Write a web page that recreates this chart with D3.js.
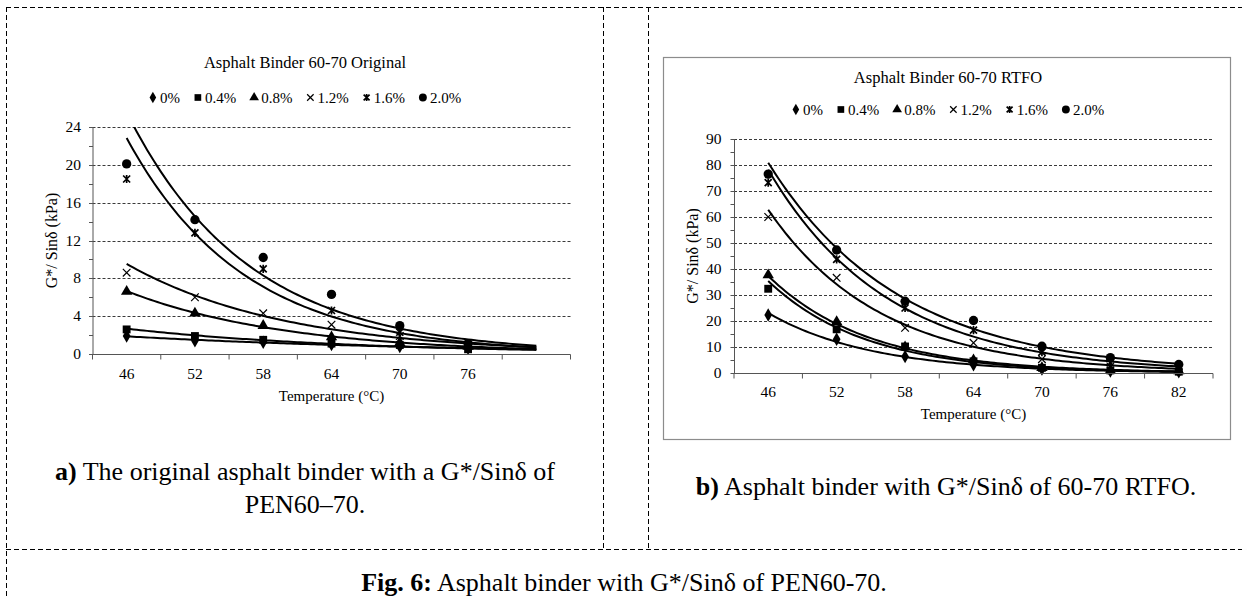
<!DOCTYPE html>
<html><head><meta charset="utf-8">
<script src="https://cdn.jsdelivr.net/npm/d3@7"></script>
<style>
body{margin:0;background:#fff}
svg{display:block}
text{font-family:"Liberation Serif","Times New Roman",serif;fill:#000}
</style>
</head><body>
<svg id="c" width="1242" height="596"></svg>
<script>
// ---------------- DATA ----------------
const catsA = ["46","52","58","64","70","76",""];
const catsB = ["46","52","58","64","70","76","82"];
const seriesNames = ["0%","0.4%","0.8%","1.2%","1.6%","2.0%"];
const markerTypes = ["diamond","square","triangle","cross","star","circle"];

// Original binder (panel a), G*/Sin delta in kPa
const origP00 = [1.9, 1.4, 1.25, 1.0, 0.8, 0.6];
const origP04 = [2.6, 1.9, 1.5, 1.1, 0.95, 0.5];
const origP08 = [6.6, 4.3, 3.0, 1.8, 1.2, 0.8];
const origP12 = [8.6, 6.0, 4.3, 3.1, 1.9, 0.9];
const origP16 = [18.5, 12.8, 9.0, 4.6, 2.3, 1.0];
const origP20 = [20.1, 14.2, 10.2, 6.3, 3.0, 1.1];

// RTFO binder (panel b)
const rtfoP00 = [22.3, 13.0, 6.3, 3.2, 1.5, 0.8, 0.5];
const rtfoP04 = [32.4, 16.8, 10.2, 4.5, 2.0, 1.0, 0.5];
const rtfoP08 = [37.7, 19.7, 10.0, 5.0, 2.0, 1.0, 0.8];
const rtfoP12 = [60.0, 36.6, 17.4, 11.6, 5.3, 2.5, 1.8];
const rtfoP16 = [73.2, 43.7, 25.0, 16.5, 8.0, 4.0, 2.5];
const rtfoP20 = [76.5, 47.3, 27.6, 20.2, 10.3, 5.9, 3.3];

const yTicksA = [0, 4, 8, 12, 16, 20, 24];
const yTicksB = [0, 10, 20, 30, 40, 50, 60, 70, 80, 90];

const titleA = "Asphalt Binder 60-70 Original";
const titleB = "Asphalt Binder 60-70 RTFO";
const yTitle = "G*/ Sinδ (kPa)";
const xTitle = "Temperature (°C)";

// ---------------- DRAW ----------------
const svg = d3.select("#c");

// frame (dashed table borders)
const frame = svg.append("g").attr("stroke", "#000").attr("stroke-width", 1).attr("stroke-dasharray", "5,3").attr("fill", "none");
frame.append("line").attr("x1", 6).attr("y1", 7.5).attr("x2", 1242).attr("y2", 7.5);
frame.append("line").attr("x1", 6.5).attr("y1", 7).attr("x2", 6.5).attr("y2", 596);
frame.append("line").attr("x1", 603.5).attr("y1", 7).attr("x2", 603.5).attr("y2", 549);
frame.append("line").attr("x1", 648.5).attr("y1", 7).attr("x2", 648.5).attr("y2", 549);
frame.append("line").attr("x1", 6).attr("y1", 549.5).attr("x2", 1242).attr("y2", 549.5);

function drawMarker(g, type, s) {
  if (type === "cross") {
    const r = 3.8 * s;
    g.append("path").attr("d", `M${-r},${-r}L${r},${r}M${-r},${r}L${r},${-r}`)
      .attr("stroke", "#000").attr("stroke-width", 1.2).attr("fill", "none");
  } else if (type === "star") {
    const r = 3.5 * s;
    g.append("path").attr("d", `M${-r},${-r}L${r},${r}M${-r},${r}L${r},${-r}M0,${-r - 0.6}L0,${r + 0.6}`)
      .attr("stroke", "#000").attr("stroke-width", 1.7).attr("fill", "none");
  } else {
    const sym = {diamond: d3.symbolDiamond, square: d3.symbolSquare, triangle: d3.symbolTriangle, circle: d3.symbolCircle}[type];
    const size = {diamond: 52, square: 62, triangle: 56, circle: 68}[type] * s * s;
    g.append("path").attr("d", d3.symbol(sym, size)()).attr("fill", "#000");
  }
}

function expFit(vals) {
  const xs = vals.map((v, i) => i), ys = vals.map(v => Math.log(v));
  const mx = d3.mean(xs), my = d3.mean(ys);
  const b = d3.sum(xs, (x, i) => (x - mx) * (ys[i] - my)) / d3.sum(xs, x => (x - mx) * (x - mx));
  const a = my - b * mx;
  return t => Math.exp(a + b * t);
}

function drawChart(cfg) {
  const g = svg.append("g");
  const x = d3.scaleBand().domain(cfg.cats).range([cfg.left, cfg.right]);
  const y = d3.scaleLinear().domain([0, cfg.ymax]).range([cfg.bottom, cfg.top]);
  const bw = x.bandwidth();
  const xi = d3.scaleLinear().domain([0, cfg.cats.length - 1])
    .range([x(cfg.cats[0]) + bw / 2, x(cfg.cats[cfg.cats.length - 1]) + bw / 2]);

  if (cfg.box) {
    g.append("rect").attr("x", cfg.box[0] + 0.5).attr("y", cfg.box[1] + 0.5)
      .attr("width", cfg.box[2] - cfg.box[0]).attr("height", cfg.box[3] - cfg.box[1])
      .attr("fill", "#fff").attr("stroke", "#8c8c8c").attr("stroke-width", 1.2);
  }

  // gridlines
  g.append("g").selectAll("line").data(cfg.yTicks.filter(v => v > 0)).join("line")
    .attr("x1", cfg.left).attr("x2", cfg.right)
    .attr("y1", d => Math.round(y(d)) + 0.5).attr("y2", d => Math.round(y(d)) + 0.5)
    .attr("stroke", "#3a3a3a").attr("stroke-width", 1).attr("stroke-dasharray", "3,2");

  // clip
  const cid = "clip" + cfg.id;
  svg.append("clipPath").attr("id", cid).append("rect")
    .attr("x", cfg.left).attr("y", cfg.top).attr("width", cfg.right - cfg.left).attr("height", cfg.bottom - cfg.top);

  // trendlines
  const lines = g.append("g").attr("clip-path", `url(#${cid})`);
  const nT = cfg.cats.length - 1;
  cfg.series.forEach(vals => {
    const f = expFit(vals);
    const pts = d3.range(0, nT + 0.0001, 0.05).map(t => [xi(t), y(f(t))]);
    lines.append("path").attr("d", d3.line()(pts)).attr("fill", "none")
      .attr("stroke", "#000").attr("stroke-width", 2);
  });

  // markers
  cfg.series.forEach((vals, si) => {
    vals.forEach((v, i) => {
      const m = g.append("g").attr("transform", `translate(${xi(i)},${y(v)})`);
      drawMarker(m, markerTypes[si], 1);
    });
  });

  // y axis
  const ya = g.append("g").attr("transform", `translate(${cfg.left + 0.5},0)`);
  ya.append("line").attr("y1", cfg.top).attr("y2", cfg.bottom).attr("stroke", "#555");
  const minorStep = cfg.yTicks[1] / 2;
  ya.selectAll("line.mi").data(d3.range(0, cfg.ymax + 0.001, minorStep)).join("line").attr("class", "mi")
    .attr("x1", -4).attr("x2", 0).attr("y1", d => Math.round(y(d)) + 0.5).attr("y2", d => Math.round(y(d)) + 0.5)
    .attr("stroke", "#555");
  ya.selectAll("text").data(cfg.yTicks).join("text")
    .attr("x", -cfg.labGap).attr("y", d => y(d)).attr("dy", "0.33em")
    .attr("text-anchor", "end").attr("font-size", 15.5).text(d => d);

  // x axis
  const xa = g.append("g").attr("transform", `translate(0,${cfg.bottom + 0.5})`);
  xa.append("line").attr("x1", cfg.left).attr("x2", cfg.right).attr("stroke", "#555");
  xa.selectAll("line.tk").data(d3.range(cfg.cats.length + 1)).join("line").attr("class", "tk")
    .attr("x1", d => cfg.left + d * bw).attr("x2", d => cfg.left + d * bw).attr("y1", 0).attr("y2", 5)
    .attr("stroke", "#555");
  xa.selectAll("text").data(cfg.cats).join("text")
    .attr("x", d => x(d) + bw / 2).attr("y", cfg.xLabBase - cfg.bottom)
    .attr("text-anchor", "middle").attr("font-size", 15.5).text(d => d);

  // axis titles
  g.append("text").attr("x", (cfg.left + cfg.right) / 2).attr("y", cfg.xTitleBase)
    .attr("text-anchor", "middle").attr("font-size", 15).text(xTitle);
  g.append("text").attr("transform", `translate(${cfg.yTitleX},${(cfg.top + cfg.bottom) / 2}) rotate(-90)`)
    .attr("text-anchor", "middle").attr("font-size", 16).text(yTitle);

  // title
  g.append("text").attr("x", cfg.center).attr("y", cfg.titleBase).attr("text-anchor", "middle")
    .attr("font-size", 16.5).text(cfg.title);

  // legend
  const lg = g.append("g");
  let cx = 0;
  seriesNames.forEach((nm, i) => {
    const it = lg.append("g").attr("transform", `translate(${cx},0)`);
    const mk = it.append("g").attr("transform", `translate(0,${-5})`);
    drawMarker(mk, markerTypes[i], 0.85);
    const t = it.append("text").attr("x", 7).attr("y", 0).attr("font-size", 15).text(nm);
    cx += 7 + t.node().getComputedTextLength() + 18;
  });
  const lw = cx - 18 + 4;
  lg.attr("transform", `translate(${cfg.center - lw / 2 + 4},${cfg.legendBase})`);
}

drawChart({
  id: "A", cats: catsA, ymax: 24, yTicks: yTicksA,
  series: [origP00, origP04, origP08, origP12, origP16, origP20],
  left: 92.5, right: 570.5, top: 127, bottom: 354,
  labGap: 12, xLabBase: 378, xTitleBase: 401, yTitleX: 56.5,
  center: 305, titleBase: 68, legendBase: 102.5, title: titleA
});

drawChart({
  id: "B", cats: catsB, ymax: 90, yTicks: yTicksB,
  series: [rtfoP00, rtfoP04, rtfoP08, rtfoP12, rtfoP16, rtfoP20],
  left: 734, right: 1213, top: 139, bottom: 373,
  labGap: 13, xLabBase: 396, xTitleBase: 419, yTitleX: 697.5,
  center: 948, titleBase: 83, legendBase: 114.5, title: titleB,
  box: [663, 57, 1230, 439]
});

// captions
function caption(x, yb, bold, rest) {
  const t = svg.append("text").attr("x", x).attr("y", yb).attr("text-anchor", "middle").attr("font-size", 26);
  if (bold) t.append("tspan").attr("font-weight", "bold").text(bold);
  t.append("tspan").text(rest);
}
caption(305, 480, "a)", " The original asphalt binder with a G*/Sinδ of");
caption(305, 513, null, "PEN60–70.");
caption(946, 495, "b)", " Asphalt binder with G*/Sinδ of 60-70 RTFO.");
caption(624, 591, "Fig. 6:", " Asphalt binder with G*/Sinδ of PEN60-70.");
</script>
</body></html>
